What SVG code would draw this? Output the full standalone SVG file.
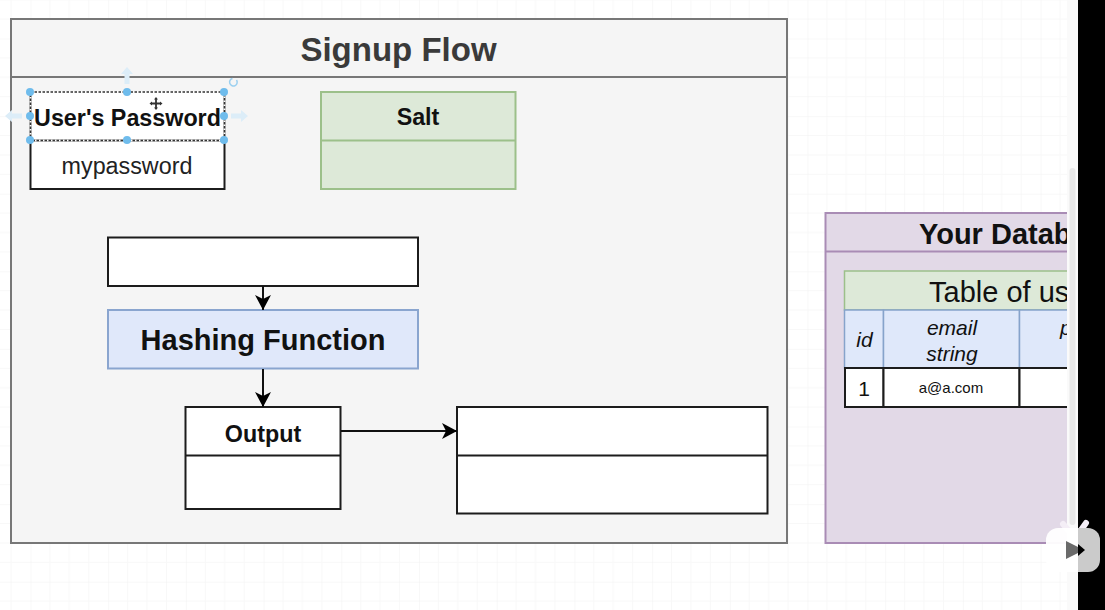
<svg xmlns="http://www.w3.org/2000/svg" width="1105" height="610" viewBox="0 0 1105 610">
<defs>
<pattern id="grid" width="77.7" height="77.6" patternUnits="userSpaceOnUse" x="30.5" y="38.5"><path d="M19.4 0V77.6M38.8 0V77.6M58.3 0V77.6M0 19.4H77.7M0 38.8H77.7M0 58.2H77.7" fill="none" stroke="#f8f8f8" stroke-width="1"/><path d="M77.7 0H0V77.6" fill="none" stroke="#f1f1f1" stroke-width="1"/></pattern>
<marker id="arrow" markerUnits="userSpaceOnUse" markerWidth="18" markerHeight="18" refX="15" refY="8" orient="auto"><path d="M0 0L15 8L0 16L4 8Z" fill="#000"/></marker>
</defs>
<style>
text{font-family:"Liberation Sans",Arial,sans-serif;text-anchor:middle;fill:#111}
.box{fill:#fff;stroke:#1c1c1c;stroke-width:2}
.b{font-weight:bold}
.conn{fill:none;stroke:#111;stroke-width:2;marker-end:url(#arrow)}
.h{fill:#6fbcec}
.ghost{fill:#dcedf8}
</style>
<rect width="1105" height="610" fill="#fff"/>
<rect width="1105" height="610" fill="url(#grid)"/>
<g id="signup-flow">
<rect x="11" y="19" width="776" height="524" fill="#f5f5f5" stroke="#777" stroke-width="2"/>
<line x1="11" y1="77" x2="787" y2="77" stroke="#777" stroke-width="2"/>
<text x="398.500" y="61" font-size="33" class="b" style="fill:#3a3a3a">Signup Flow</text>
</g>
<g id="database">
<rect x="825.500" y="213" width="300" height="330" fill="#e2d9e7" stroke="#a98cb5" stroke-width="2"/>
<line x1="825" y1="251.500" x2="1105" y2="251.500" stroke="#a98cb5" stroke-width="2"/>
<text x="919" y="244" font-size="29" class="b" style="text-anchor:start">Your Datab</text>
</g>
<g id="users-table">
<rect x="844.500" y="271" width="260" height="39" fill="#dde9d8" stroke="#9cc08a" stroke-width="1.500"/>
<text x="929" y="302" font-size="29" style="text-anchor:start">Table of us</text>
<rect x="844.500" y="310" width="39" height="58" fill="#dfe8fa" stroke="#86a3cb" stroke-width="1.500"/>
<rect x="883.500" y="310" width="136" height="58" fill="#dfe8fa" stroke="#86a3cb" stroke-width="1.500"/>
<rect x="1019.500" y="310" width="90" height="58" fill="#dfe8fa" stroke="#86a3cb" stroke-width="1.500"/>
<text x="864.500" y="347" font-size="21" font-style="italic">id</text>
<text x="952" y="335" font-size="21" font-style="italic">email</text>
<text x="952" y="361" font-size="21" font-style="italic">string</text>
<text x="1060" y="335" font-size="21" font-style="italic" style="text-anchor:start">p</text>
<rect x="845" y="368" width="38.500" height="39" class="box"/>
<rect x="883.500" y="368" width="136" height="39" class="box"/>
<rect x="1019.500" y="368" width="90" height="39" class="box"/>
<text x="864" y="396" font-size="21">1</text>
<text x="951" y="393" font-size="15">a@a.com</text>
</g>
<g id="users-password">
<rect x="30.500" y="92" width="194" height="97" class="box"/>
<line x1="30.500" y1="140.500" x2="224.500" y2="140.500" stroke="#1c1c1c" stroke-width="2"/>
<text x="127.500" y="126" font-size="23.300" class="b">User's Password</text>
<text x="127" y="174" font-size="23.300" style="fill:#222">mypassword</text>
</g>
<g id="salt">
<rect x="321" y="92" width="194.500" height="97" fill="#dde9d8" stroke="#9cc08a" stroke-width="2"/>
<line x1="321" y1="140.500" x2="515.500" y2="140.500" stroke="#9cc08a" stroke-width="2"/>
<text x="418" y="125" font-size="23.300" class="b">Salt</text>
</g>
<g id="input-box"><rect x="108" y="237.500" width="310" height="48.500" class="box"/></g>
<g id="hashing-function">
<rect x="108" y="310" width="310" height="58.500" fill="#e0e8fa" stroke="#8aa5cf" stroke-width="2"/>
<text x="263" y="350" font-size="29" class="b">Hashing Function</text>
</g>
<g id="output">
<rect x="185.500" y="407" width="155" height="102" class="box"/>
<line x1="185.500" y1="455.500" x2="340.500" y2="455.500" stroke="#1c1c1c" stroke-width="2"/>
<text x="263" y="442" font-size="23.300" class="b">Output</text>
</g>
<g id="result-box">
<rect x="457" y="407" width="310.500" height="106.500" class="box"/>
<line x1="457" y1="455.500" x2="767.500" y2="455.500" stroke="#1c1c1c" stroke-width="2"/>
</g>
<g id="connectors">
<line x1="263" y1="286" x2="263" y2="310" class="conn"/>
<line x1="263" y1="369" x2="263" y2="407" class="conn"/>
<line x1="341" y1="431" x2="457" y2="431" class="conn"/>
</g>
<g id="selection">
<rect x="30.500" y="92" width="194" height="48.500" fill="none" stroke="#fff" stroke-width="2"/>
<rect x="30.500" y="92" width="194" height="48.500" fill="none" stroke="#333" stroke-width="1.500" stroke-dasharray="2.500 1.500"/>
<circle cx="30" cy="92" r="4" class="h"/><circle cx="127" cy="92" r="4" class="h"/><circle cx="224" cy="92" r="4" class="h"/>
<circle cx="30" cy="116" r="4" class="h"/><circle cx="224" cy="116" r="4" class="h"/>
<circle cx="30" cy="140" r="4" class="h"/><circle cx="127" cy="140" r="4" class="h"/><circle cx="224" cy="140" r="4" class="h"/>
<path d="M127 67l6 7h-3.500v10h-5v-10h-3.500z" class="ghost"/>
<path d="M5 116l7-6v3.500h10v5h-10v3.500z" class="ghost"/>
<path d="M248 116l-7-6v3.500h-10v5h10v3.500z" class="ghost"/>
<path d="M236.500 80a3.800 3.800 0 1 1-4-1.500" fill="none" stroke="#9bd0f0" stroke-width="1.500"/>
<path d="M156 98.500v10M151 103.500h10" stroke="#333" stroke-width="1.800"/>
<path d="M156 97l2 2.500h-4zM156 110l2-2.500h-4zM149.500 103.500l2.500-2v4zM162.500 103.500l-2.500-2v4z" fill="#333"/>
</g>
<g id="player-overlay">
<rect x="1067" y="0" width="11" height="610" fill="#fafafa"/>
<rect x="1069.500" y="168" width="6" height="357" rx="3" fill="#e8e8e8"/>
<rect x="1078" y="0" width="27" height="610" fill="#000"/>
<path d="M1063 524l5 6M1086 523l-5 7" stroke="#f4eef6" stroke-width="6" stroke-linecap="round"/>
<path d="M1058 528H1078V572H1058A12 12 0 0 1 1046 560V540A12 12 0 0 1 1058 528Z" fill="#fff" fill-opacity=".95"/>
<path d="M1078 528H1088A12 12 0 0 1 1100 540V560A12 12 0 0 1 1088 572H1078Z" fill="#cbcbcb"/>
<path d="M1066 541L1078 547V553L1066 559Z" fill="#6a6a6a"/>
<path d="M1078 544L1085 550L1078 556Z" fill="#000"/>
</g>
</svg>
